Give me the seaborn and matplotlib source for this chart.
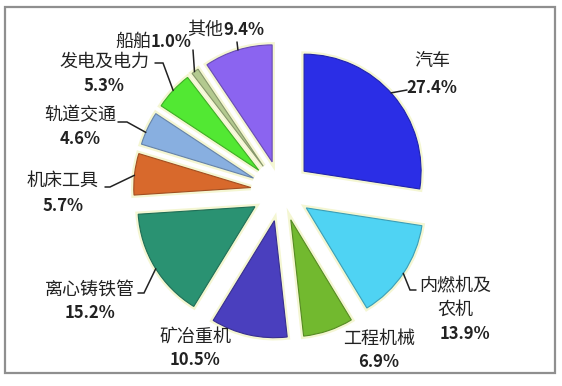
import numpy as np
import matplotlib
matplotlib.use("Agg")
import matplotlib.pyplot as plt
import matplotlib.patheffects as pe
from matplotlib.patches import Rectangle
import seaborn as sns

# ---------------- data ----------------
categories = ["汽车", "内燃机及农机", "工程机械", "矿冶重机", "离心铸铁管",
              "机床工具", "轨道交通", "发电及电力", "船舶", "其他"]
shares = [27.4, 13.9, 6.9, 10.5, 15.2, 5.7, 4.6, 5.3, 1.0, 9.4]
pct_labels = ["27.4%", "13.9%", "6.9%", "10.5%", "15.2%",
              "5.7%", "4.6%", "5.3%", "1.0%", "9.4%"]
slice_colors = ["#2b2ee6", "#4fd3f3", "#72b92f", "#4a3fbe", "#2a9272",
                "#d8692c", "#88afe0", "#52e833", "#b3c98f", "#8b64f0"]

# ---------------- style ----------------
sns.set_theme(style="white")
plt.rcParams["font.family"] = ["Noto Sans CJK SC", "DejaVu Sans"]

W, H = 562, 386
CX, CY, R = 281, 191, 117  # pie centre / radius in pixels (layout)


def P(px, py):
    """pixel coords -> data coords (pie radius = 1)"""
    return ((px - CX) / R, (CY - py) / R)


fig = plt.figure(figsize=(W / 100, H / 100), dpi=100)
ax = fig.add_axes([0, 0, 1, 1])

palette = sns.color_palette(slice_colors)
explode = [0.26] * len(shares)
wedges, _ = ax.pie(shares, colors=palette, startangle=90, counterclock=False,
                   explode=explode, radius=1.0,
                   wedgeprops=dict(linewidth=0.8))
for w, c in zip(wedges, palette):
    dark = tuple(v * 0.75 for v in c)
    w.set_edgecolor(dark)
    w.set_path_effects([pe.Stroke(linewidth=4, foreground="#f4f6d2"), pe.Normal()])

ax.set_xlim(-CX / R, (W - CX) / R)
ax.set_ylim(-(H - CY) / R, CY / R)
ax.set_aspect("equal")
ax.axis("off")

# border frame
x0, y0 = P(5, 373)
x1, y1 = P(555, 7)
ax.add_patch(Rectangle((x0, y0), x1 - x0, y1 - y0, fill=False,
                       edgecolor="#8f8f8f", linewidth=1.6, zorder=0))

txt_color = "#222222"
cn_size = 13
pc_size = 12


def put(s, px, py, pct, ha="center"):
    x, y = P(px, py)
    ax.text(x, y, s, ha=ha, va="center", color=txt_color,
            fontsize=pc_size if pct else cn_size,
            fontweight="bold" if pct else "normal")


# label layout: (text, pixel centre, is-percentage)
layout = [
    ("汽车", 432, 61, False), (pct_labels[0], 432, 88, True),
    ("内燃机及", 455, 286, False), ("农机", 455, 310, False), (pct_labels[1], 465, 334, True),
    ("工程机械", 379, 339, False), (pct_labels[2], 379, 362, True),
    ("矿冶重机", 195, 337, False), (pct_labels[3], 195, 360, True),
    ("离心铸铁管", 90, 290, False), (pct_labels[4], 90, 313, True),
    ("机床工具", 63, 181, False), (pct_labels[5], 63, 206, True),
    ("轨道交通", 80, 115, False), (pct_labels[6], 80, 139, True),
    ("发电及电力", 104, 62, False), (pct_labels[7], 104, 86, True),
]
for s, px, py, pct in layout:
    put(s, px, py, pct)

# inline labels (name + percentage on one line)
put(categories[8], 151, 42, False, ha="right")
put(pct_labels[8], 151, 42, True, ha="left")
put(categories[9], 223, 30, False, ha="right")
put(pct_labels[9], 223, 30, True, ha="left")

# leader lines: (slice index, arc angle in degrees, list of pixel points)
leaders = [
    (0, 42, [(407, 90)]),
    (1, -34, [(410, 290), (416, 290)]),
    (4, 212, [(144, 293), (138, 293)]),
    (5, 174, [(110, 187), (105, 187)]),
    (6, 157, [(127, 122), (118, 122)]),
    (7, 137, [(163, 63), (155, 63)]),
    (8, 126, [(193, 50)]),
    (9, 107, [(237, 42)]),
]
for i, ang, pts in leaders:
    cx, cy = wedges[i].center
    a = np.deg2rad(ang)
    xs = [cx + np.cos(a)] + [P(*p)[0] for p in pts]
    ys = [cy + np.sin(a)] + [P(*p)[1] for p in pts]
    ax.plot(xs, ys, color=txt_color, linewidth=1.1, solid_joinstyle="miter")

fig.savefig("out.png", dpi=100)
